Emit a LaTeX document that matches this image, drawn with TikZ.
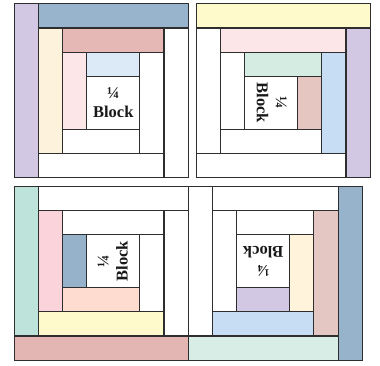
\documentclass[tikz,border=0pt]{standalone}
\usepackage{fontspec}
\setmainfont{Liberation Serif}
\definecolor{edge}{HTML}{2E2E2E}
% block 1 (top-left)
\definecolor{aas1}{HTML}{DCEAF7}
\definecolor{aas2}{HTML}{FCE6E8}
\definecolor{aas3}{HTML}{FFFFFF}
\definecolor{aas4}{HTML}{FFFFFF}
\definecolor{aas5}{HTML}{E6B8B5}
\definecolor{aas6}{HTML}{FDF2DC}
\definecolor{aas7}{HTML}{FFFFFF}
\definecolor{aas8}{HTML}{FFFFFF}
\definecolor{aas9}{HTML}{98B4CC}
\definecolor{aas10}{HTML}{D3C8E3}
% block 2 (top-right)
\definecolor{bbs1}{HTML}{E5C6C1}
\definecolor{bbs2}{HTML}{D5ECE2}
\definecolor{bbs3}{HTML}{FFFFFF}
\definecolor{bbs4}{HTML}{FFFFFF}
\definecolor{bbs5}{HTML}{C7DDF3}
\definecolor{bbs6}{HTML}{FDE6E7}
\definecolor{bbs7}{HTML}{FFFFFF}
\definecolor{bbs8}{HTML}{FFFFFF}
\definecolor{bbs9}{HTML}{D3C8E3}
\definecolor{bbs10}{HTML}{FFFACB}
% block 3 (bottom-left)
\definecolor{ccs1}{HTML}{96B2CB}
\definecolor{ccs2}{HTML}{FEDCD0}
\definecolor{ccs3}{HTML}{FFFFFF}
\definecolor{ccs4}{HTML}{FFFFFF}
\definecolor{ccs5}{HTML}{FBD3DB}
\definecolor{ccs6}{HTML}{FFFACC}
\definecolor{ccs7}{HTML}{FFFFFF}
\definecolor{ccs8}{HTML}{FFFFFF}
\definecolor{ccs9}{HTML}{BDE3DB}
\definecolor{ccs10}{HTML}{E4B6B3}
% block 4 (bottom-right)
\definecolor{dds1}{HTML}{D2C8E4}
\definecolor{dds2}{HTML}{FFF3DC}
\definecolor{dds3}{HTML}{FFFFFF}
\definecolor{dds4}{HTML}{FFFFFF}
\definecolor{dds5}{HTML}{C6DDF3}
\definecolor{dds6}{HTML}{E4C6C3}
\definecolor{dds7}{HTML}{FFFFFF}
\definecolor{dds8}{HTML}{FFFFFF}
\definecolor{dds9}{HTML}{D8EDE5}
\definecolor{dds10}{HTML}{97B3CC}
\tikzset{
  strip/.style={draw=edge, line width=1.15pt, line join=miter},
  quarterlabel/.style={align=center, inner sep=0pt,
    font=\fontsize{16.5}{19}\selectfont\bfseries, text=black!90}
}
\newcommand\logblock[4]{%
\begin{scope}[shift={#1}, rotate=#2]
\draw[strip, fill=#3s10] (-87,87) rectangle (-62.8,-87);
\draw[strip, fill=#3s9] (-62.8,87) rectangle (87,62.8);
\draw[strip, fill=#3s8] (62.8,62.8) rectangle (87,-87);
\draw[strip, fill=#3s7] (-62.8,-62.8) rectangle (62.8,-87);
\draw[strip, fill=#3s6] (-62.8,62.8) rectangle (-38.6,-62.8);
\draw[strip, fill=#3s5] (-38.6,62.8) rectangle (62.8,38.6);
\draw[strip, fill=#3s4] (38.6,38.6) rectangle (62.8,-62.8);
\draw[strip, fill=#3s3] (-38.6,-38.6) rectangle (38.6,-62.8);
\draw[strip, fill=#3s2] (-38.6,38.6) rectangle (-14.4,-38.6);
\draw[strip, fill=#3s1] (-14.4,38.6) rectangle (38.6,14.4);
\draw[strip, fill=white] (-14.4,14.4) rectangle (38.6,-38.6);
\node[quarterlabel, rotate=#2] (#4) at (12.1,-11.6) {¼\\Block};
\end{scope}}
\begin{document}
\begin{tikzpicture}[x=1pt, y=1pt]
\useasboundingbox[fill=white] (0,0) rectangle (380,366);
\logblock{(101.2,275.2)}{0}{aa}{qa}
\logblock{(283.2,275.2)}{-90}{bb}{qb}
\logblock{(101.2,92.8)}{90}{cc}{qc}
\logblock{(275.3,92.8)}{180}{dd}{qd}
\end{tikzpicture}
\end{document}
